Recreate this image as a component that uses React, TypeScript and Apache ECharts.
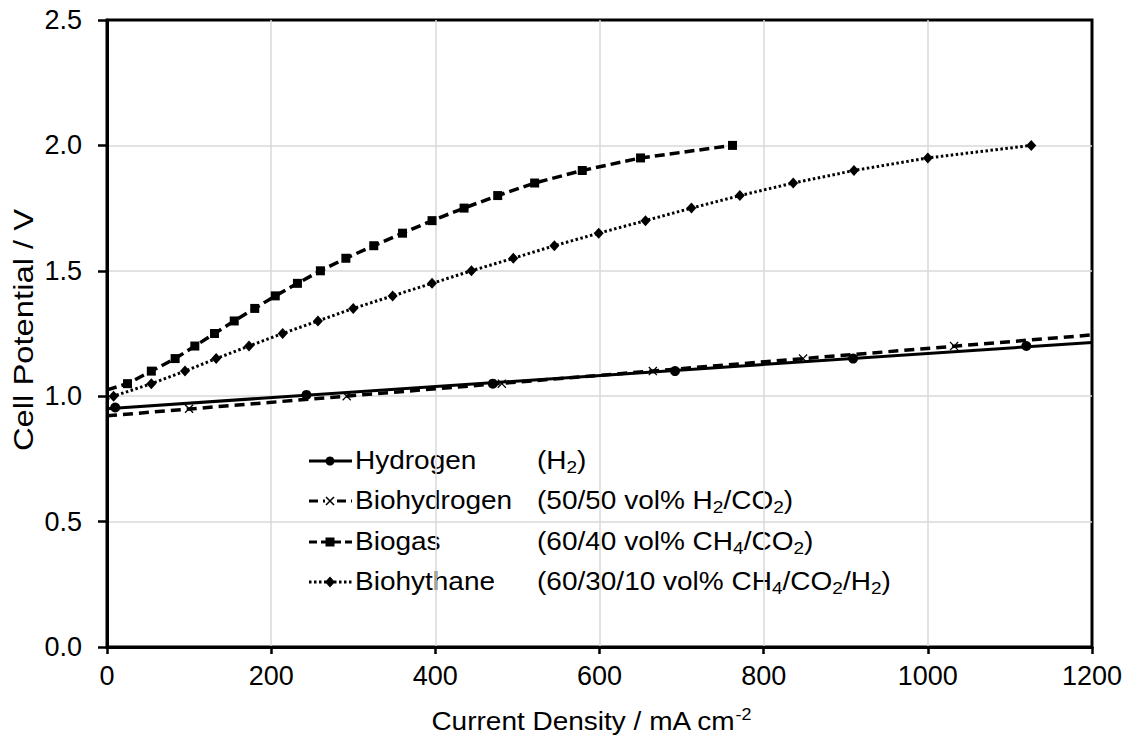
import React, { useEffect, useRef } from "react";
import * as echarts from "echarts";

// ---- data ----
const xTicks = [0, 200, 400, 600, 800, 1000, 1200];
const yTicks = [0, 0.5, 1.0, 1.5, 2.0, 2.5];

const hydrogenX = [10, 243, 470, 692, 909, 1120];
const hydrogenY = [0.955, 1.005, 1.05, 1.1, 1.15, 1.2];

const biohydrogenX = [100, 292, 481, 665, 848, 1032];
const biohydrogenY = [0.95, 1.0, 1.05, 1.1, 1.15, 1.2];

const biogasX = [0, 25, 54, 83, 107, 131, 155, 180, 205, 232, 260, 291, 325, 360, 396, 435, 476, 521, 579, 650, 762];
const biogasY = [1.025, 1.05, 1.1, 1.15, 1.2, 1.25, 1.3, 1.35, 1.4, 1.45, 1.5, 1.55, 1.6, 1.65, 1.7, 1.75, 1.8, 1.85, 1.9, 1.95, 2.0];

const biohythaneX = [0, 8, 54, 95, 133, 173, 214, 257, 300, 348, 396, 444, 495, 545, 599, 656, 712, 771, 836, 910, 1000, 1126];
const biohythaneY = [0.99, 1.0, 1.05, 1.1, 1.15, 1.2, 1.25, 1.3, 1.35, 1.4, 1.45, 1.5, 1.55, 1.6, 1.65, 1.7, 1.75, 1.8, 1.85, 1.9, 1.95, 2.0];

const legendNames = ["Hydrogen", "Biohydrogen", "Biogas", "Biohythane"];
const legendFormulas = ["(H_2)", "(50/50 vol% H_2/CO_2)", "(60/40 vol% CH_4/CO_2)", "(60/30/10 vol% CH_4/CO_2/H_2)"];

const xTitle = "Current Density / mA cm";
const xTitleSup = "-2";
const yTitle = "Cell Potential / V";

const FONT = "Liberation Sans, Arial, sans-serif";

function zip(xs: number[], ys: number[]) {
  return xs.map((x, i) => [x, ys[i]]);
}

// linear trendline (least squares) spanning the x axis range
function trend(xs: number[], ys: number[]) {
  const n = xs.length;
  const mx = xs.reduce((a, b) => a + b, 0) / n;
  const my = ys.reduce((a, b) => a + b, 0) / n;
  let sxy = 0, sxx = 0;
  for (let i = 0; i < n; i++) {
    sxy += (xs[i] - mx) * (ys[i] - my);
    sxx += (xs[i] - mx) * (xs[i] - mx);
  }
  const b = sxy / sxx;
  const a = my - b * mx;
  const x0 = xTicks[0];
  const x1 = xTicks[xTicks.length - 1];
  return [[x0, a + b * x0], [x1, a + b * x1]];
}

function subRich(s: string) {
  const parts = s.split(/_(\d)/);
  return parts
    .map((p, i) => (p === "" ? "" : i % 2 === 0 ? `{n|${p}}` : `{s|${p}}`))
    .join("");
}

const X_SYMBOL = "path://M0,1 L1,0 L5,4 L9,0 L10,1 L6,5 L10,9 L9,10 L5,6 L1,10 L0,9 L4,5 Z";

export default function App() {
  const ref = useRef<HTMLDivElement>(null);

  useEffect(() => {
    if (!ref.current) return;
    const chart = echarts.init(ref.current, undefined, { renderer: "svg" });

    const rowY = [461, 501, 542, 582];
    const lineX1 = 309, lineX2 = 352, markX = 330;
    const dashes: (number[] | null)[] = [null, [9, 5], [8, 4], [2.5, 2.5]];

    const legendGraphics: any[] = [];
    rowY.forEach((y, i) => {
      const ls: any = { stroke: "#000", lineWidth: 3 };
      if (dashes[i]) ls.lineDash = dashes[i];
      legendGraphics.push({ type: "line", shape: { x1: lineX1, y1: y, x2: lineX2, y2: y }, style: ls });
      if (i === 0) {
        legendGraphics.push({ type: "circle", shape: { cx: markX, cy: y, r: 4.5 }, style: { fill: "#000" } });
      } else if (i === 1) {
        legendGraphics.push({ type: "rect", shape: { x: markX - 5, y: y - 5, width: 10, height: 10 }, style: { fill: "#fff" } });
        legendGraphics.push({ type: "line", shape: { x1: markX - 4, y1: y - 4, x2: markX + 4, y2: y + 4 }, style: { stroke: "#000", lineWidth: 1.6 } });
        legendGraphics.push({ type: "line", shape: { x1: markX - 4, y1: y + 4, x2: markX + 4, y2: y - 4 }, style: { stroke: "#000", lineWidth: 1.6 } });
      } else if (i === 2) {
        legendGraphics.push({ type: "rect", shape: { x: markX - 4.5, y: y - 4.5, width: 9, height: 9 }, style: { fill: "#000" } });
      } else {
        legendGraphics.push({
          type: "polygon",
          shape: { points: [[markX, y - 5.5], [markX + 5, y], [markX, y + 5.5], [markX - 5, y]] },
          style: { fill: "#000" },
        });
      }
      legendGraphics.push({
        type: "text",
        x: 355,
        y,
        scaleX: 1.12,
        style: { text: legendNames[i], fontSize: 25, fontFamily: FONT, fill: "#000", align: "left", verticalAlign: "middle" },
      });
      legendGraphics.push({
        type: "text",
        x: 537,
        y,
        scaleX: 1.12,
        style: {
          text: subRich(legendFormulas[i]),
          fontSize: 25,
          fontFamily: FONT,
          fill: "#000",
          align: "left",
          verticalAlign: "middle",
          rich: {
            n: { fontSize: 25, fontFamily: FONT, fill: "#000", color: "#000" },
            s: { fontSize: 17, fontFamily: FONT, fill: "#000", color: "#000", padding: [12, 0, 0, 0] },
          },
        },
      });
    });

    const titles: any[] = [
      {
        type: "text",
        x: 591,
        y: 722,
        scaleX: 1.12,
        style: {
          text: `{n|${xTitle}}{p|${xTitleSup}}`,
          fontSize: 25,
          fontFamily: FONT,
          fill: "#000",
          align: "center",
          verticalAlign: "middle",
          rich: {
            n: { fontSize: 25, fontFamily: FONT, fill: "#000", color: "#000" },
            p: { fontSize: 16, fontFamily: FONT, fill: "#000", color: "#000", padding: [0, 0, 14, 0] },
          },
        },
      },
      {
        type: "text",
        x: 23,
        y: 330,
        rotation: Math.PI / 2,
        scaleX: 1.17,
        style: { text: yTitle, fontSize: 28, fontFamily: FONT, fill: "#000", align: "center", verticalAlign: "middle" },
      },
    ];

    const option: any = {
      animation: false,
      backgroundColor: "#fff",
      textStyle: { fontFamily: FONT },
      grid: {
        left: 107,
        right: 38,
        top: 20,
        bottom: 93,
        containLabel: false,
        show: true,
        borderColor: "#000",
        borderWidth: 3,
        backgroundColor: "transparent",
      },
      xAxis: {
        type: "value",
        min: xTicks[0],
        max: xTicks[xTicks.length - 1],
        interval: xTicks[1] - xTicks[0],
        axisLine: { show: true, onZero: false, lineStyle: { color: "#000", width: 3 } },
        axisTick: { show: true, length: 7, lineStyle: { color: "#000", width: 2.5 } },
        axisLabel: { color: "#000", fontSize: 27, fontFamily: FONT, margin: 15, formatter: (v: number) => String(v) },
        splitLine: { show: true, showMinLine: false, showMaxLine: false, lineStyle: { color: "#d9d9d9", width: 1.5 } },
      },
      yAxis: {
        type: "value",
        min: yTicks[0],
        max: yTicks[yTicks.length - 1],
        interval: yTicks[1] - yTicks[0],
        axisLine: { show: true, onZero: false, lineStyle: { color: "#000", width: 3 } },
        axisTick: { show: true, length: 9, lineStyle: { color: "#000", width: 2.5 } },
        axisLabel: { color: "#000", fontSize: 27, fontFamily: FONT, margin: 25, formatter: (v: number) => v.toFixed(1) },
        splitLine: { show: true, showMinLine: false, showMaxLine: false, lineStyle: { color: "#d9d9d9", width: 1.5 } },
      },
      series: [
        {
          name: "Hydrogen trend",
          type: "line",
          data: trend(hydrogenX, hydrogenY),
          showSymbol: false,
          symbol: "none",
          lineStyle: { color: "#000", width: 3, type: "solid" },
          z: 3,
        },
        {
          name: "Biohydrogen trend",
          type: "line",
          data: trend(biohydrogenX, biohydrogenY),
          showSymbol: false,
          symbol: "none",
          lineStyle: { color: "#000", width: 3.5, type: [10, 6] },
          z: 3,
        },
        {
          name: "Biogas",
          type: "line",
          data: zip(biogasX, biogasY).map((p, i) => (i === 0 ? { value: p, symbol: "none" } : { value: p })),
          symbol: "rect",
          symbolSize: 9,
          showAllSymbol: true,
          itemStyle: { color: "#000" },
          lineStyle: { color: "#000", width: 3.5, type: [10, 5] },
          z: 3,
        },
        {
          name: "Biohythane",
          type: "line",
          data: zip(biohythaneX, biohythaneY).map((p, i) => (i === 0 ? { value: p, symbol: "none" } : { value: p })),
          symbol: "diamond",
          symbolSize: [10, 11],
          showAllSymbol: true,
          itemStyle: { color: "#000" },
          lineStyle: { color: "#000", width: 3, type: [2.5, 2.5] },
          z: 3,
        },
        {
          name: "Hydrogen",
          type: "scatter",
          data: zip(hydrogenX, hydrogenY),
          symbol: "circle",
          symbolSize: 10,
          itemStyle: { color: "#000", opacity: 1 },
          z: 4,
        },
        {
          name: "Biohydrogen",
          type: "scatter",
          data: zip(biohydrogenX, biohydrogenY),
          symbol: X_SYMBOL,
          symbolSize: 9,
          itemStyle: { color: "#000", opacity: 1 },
          z: 4,
        },
      ],
      graphic: [...legendGraphics, ...titles],
    };

    chart.setOption(option);
    return () => chart.dispose();
  }, []);

  return (
    <div
      ref={ref}
      style={{ position: "absolute", left: 0, top: 0, width: 1130, height: 740, background: "#fff" }}
    />
  );
}
